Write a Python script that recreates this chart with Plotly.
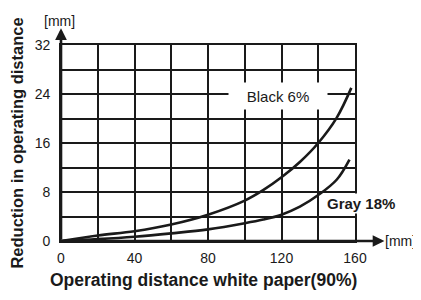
import plotly.graph_objects as go

# Data
black_x = [0, 20, 40, 60, 80, 100, 110, 120, 130, 140, 150, 158]
black_y = [0, 0.9, 1.6, 2.7, 4.3, 6.6, 8.3, 10.4, 12.9, 16.0, 20.1, 25.0]
gray_x = [0, 20, 40, 60, 80, 100, 110, 120, 130, 140, 150, 157]
gray_y = [0, 0.3, 0.7, 1.25, 1.9, 2.9, 3.5, 4.3, 5.6, 7.5, 10.0, 13.3]

x_tickvals = [0, 20, 40, 60, 80, 100, 120, 140, 160]
x_ticktext = ["0", "", "40", "", "80", "", "120", "", "160"]
y_tickvals = [0, 4, 8, 12, 16, 20, 24, 28, 32]
y_ticktext = ["0", "", "8", "", "16", "", "24", "", "32"]

x_title = "Operating distance white paper(90%)"
y_title = "Reduction in operating distance"
unit = "[mm]"

INK = "#1a1a1a"
FONT = "Liberation Sans, Arial, sans-serif"

fig = go.Figure()
fig.add_trace(go.Scatter(x=black_x, y=black_y, mode="lines",
                         line=dict(color=INK, width=2.6, shape="spline", smoothing=1.0),
                         name="Black 6%", showlegend=False, cliponaxis=False))
fig.add_trace(go.Scatter(x=gray_x, y=gray_y, mode="lines",
                         line=dict(color=INK, width=2.6, shape="spline", smoothing=1.0),
                         name="Gray 18%", showlegend=False, cliponaxis=False))

# The page body has an 8px default margin, so the figure is sized to fill the window.
fig.update_layout(
    width=413, height=292,
    margin=dict(l=53, r=66, t=37, b=59, autoexpand=False),
    paper_bgcolor="white", plot_bgcolor="white",
    font=dict(family=FONT, color=INK, size=14),
    xaxis=dict(range=[0, 160], tickvals=x_tickvals, ticktext=x_ticktext,
               showgrid=True, gridcolor=INK, gridwidth=1.5, zeroline=False,
               showline=True, mirror=True, linecolor=INK, linewidth=1.6,
               ticks="", ticklabelstandoff=3, automargin=False),
    yaxis=dict(range=[0, 32], tickvals=y_tickvals, ticktext=y_ticktext,
               showgrid=True, gridcolor=INK, gridwidth=1.5, zeroline=False,
               showline=True, mirror=True, linecolor=INK, linewidth=1.6,
               ticks="", ticklabelstandoff=6, automargin=False,
               title=dict(text=y_title, font=dict(size=16.5, weight="bold"), standoff=8)),
)

# X axis title (placed as annotation to match reference position)
fig.add_annotation(xref="paper", yref="paper", x=0.483, y=-0.199, xanchor="center", yanchor="middle",
                   text=x_title, showarrow=False, font=dict(size=17.5, weight="bold"))

# Axis arrows
fig.add_annotation(xref="paper", yref="paper", x=0, y=1.085, ax=0, ay=213,
                   axref="pixel", ayref="pixel", showarrow=True, arrowhead=2,
                   arrowsize=0.9, arrowwidth=2.6, arrowcolor=INK, standoff=0, text="")
fig.add_annotation(xref="paper", yref="paper", x=1.1, y=0, ax=-323, ay=0,
                   axref="pixel", ayref="pixel", showarrow=True, arrowhead=2,
                   arrowsize=0.9, arrowwidth=2.6, arrowcolor=INK, standoff=0, text="")

# Unit labels
fig.add_annotation(xref="paper", yref="paper", x=-0.06, y=1.125, xanchor="left", yanchor="middle",
                   text=unit, showarrow=False, font=dict(size=14), borderpad=0)
fig.add_annotation(xref="paper", yref="paper", x=1.097, y=0, xanchor="left", yanchor="middle",
                   text=unit, showarrow=False, font=dict(size=14), borderpad=0)

# Curve labels
fig.add_annotation(x=118, y=23.6, text="Black 6%", showarrow=False, width=94, height=22,
                   font=dict(size=15), bgcolor="white", borderpad=2)
fig.add_annotation(x=143.5, y=6.2, xanchor="left", text="Gray 18%", showarrow=False,
                   font=dict(size=15, weight="bold"), bgcolor="white", borderpad=1)

fig.write_html("out.html")
